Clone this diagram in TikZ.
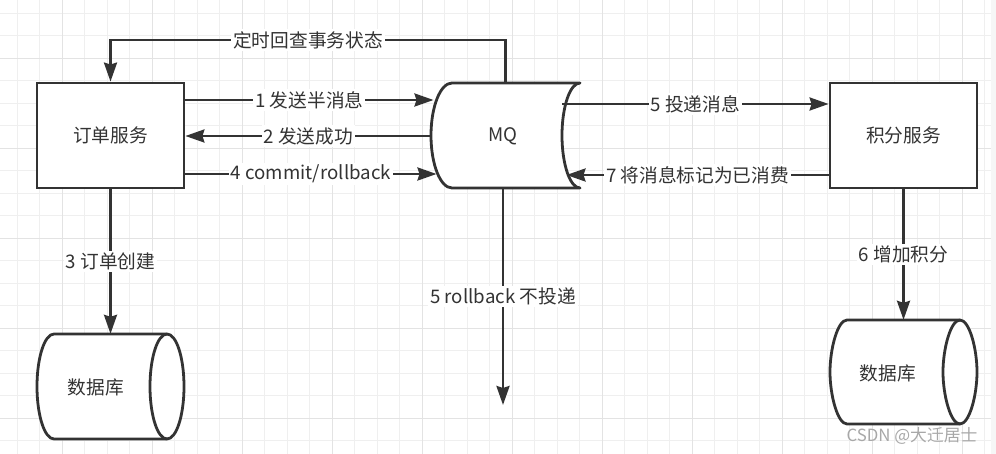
\documentclass[tikz,border=0pt]{standalone}
\usepackage{fontspec}
\setmainfont{Noto Sans CJK SC}
\usetikzlibrary{arrows.meta}
\definecolor{ink}{HTML}{333333}
\definecolor{gridminor}{HTML}{EFEFEF}
\definecolor{gridmajor}{HTML}{E3E3E3}
\definecolor{wm}{HTML}{A8A8A8}
\newcommand{\lblfont}{\fontsize{18.7}{22}\selectfont}
\newcommand{\wmfont}{\fontsize{16.8}{19}\selectfont}
\tikzset{
  shapeline/.style={draw=ink, fill=white, line width=2.8pt, line join=round},
  conn/.style={draw=ink, line width=2.6pt, -{Stealth[length=19pt,width=13pt,inset=2pt]}},
  lbl/.style={fill=white, text=ink, inner sep=2pt, font=\lblfont},
  svcbox/.style={draw=ink, fill=white, line width=2.8pt, minimum width=147pt, minimum height=105pt, inner sep=0pt, text=ink, font=\lblfont},
  dbarea/.style={draw=none, minimum width=147pt, minimum height=105pt, inner sep=0pt},
  dbtext/.style={text=ink, font=\lblfont, inner sep=0pt},
}
\begin{document}
\begin{tikzpicture}[x=1pt,y=-1pt]
\useasboundingbox (0,0) rectangle (996,454);
\fill[white] (0,0) rectangle (996,454);
% grid
\foreach \i in {0,...,43} { \draw[gridminor, line width=1.3pt] ({17.3+22.5*\i},0) -- ({17.3+22.5*\i},454); }
\foreach \i in {0,...,19} { \draw[gridminor, line width=1.3pt] (0,{13.3+22.5*\i}) -- (996,{13.3+22.5*\i}); }
\foreach \i in {0,...,10} { \draw[gridmajor, line width=1.3pt] ({62.3+90*\i},0) -- ({62.3+90*\i},454); }
\foreach \i in {0,...,4} { \draw[gridmajor, line width=1.3pt] (0,{58.3+90*\i}) -- (996,{58.3+90*\i}); }
\fill[gray!7] (991,0) rectangle (996,454);

% service boxes
\node[svcbox] (b1) at (110.5,135.5) {订单服务};
\node[svcbox] (b2) at (903.5,135.5) {积分服务};

% MQ (data storage shape)
\draw[shapeline] (452,83) -- (580,83)
  .. controls (570.1,83) and (562,106.5) .. (562,135.5)
  .. controls (562,164.5) and (570.1,188) .. (580,188)
  -- (452,188)
  .. controls (440.4,188) and (431,164.5) .. (431,135.5)
  .. controls (431,106.5) and (440.4,83) .. (452,83) -- cycle;
\node[text=ink, font=\lblfont, inner sep=0pt] (mq) at (503,136) {MQ};
\coordinate (mqa) at (433.5,100);
\coordinate (mqb) at (431,136);
\coordinate (mqc) at (436.5,174);
\coordinate (mqd) at (562,104);
\coordinate (mqe) at (566.5,175);
\coordinate (mqtop) at (505.5,83);
\coordinate (mqbot) at (503,188);
\coordinate (topbend) at (505.5,40);
\coordinate (rbend) at (503,405);

% databases
\draw[shapeline] (54,334) -- (167,334)
  .. controls (176.4,334) and (184,357.5) .. (184,386.5)
  .. controls (184,415.5) and (176.4,439) .. (167,439)
  -- (54,439)
  .. controls (44.6,439) and (37,415.5) .. (37,386.5)
  .. controls (37,357.5) and (44.6,334) .. (54,334) -- cycle;
\draw[shapeline, fill=none] (167,334)
  .. controls (157.6,334) and (150,357.5) .. (150,386.5)
  .. controls (150,415.5) and (157.6,439) .. (167,439);
\node[dbarea] (db1) at (110.5,386.5) {};
\node[dbtext] (db1t) at (96,387) {数据库};

\draw[shapeline] (847,320) -- (960,320)
  .. controls (969.4,320) and (977,348.7) .. (977,372)
  .. controls (977,395.3) and (969.4,424) .. (960,424)
  -- (847,424)
  .. controls (837.6,424) and (830,395.3) .. (830,372)
  .. controls (830,348.7) and (837.6,320) .. (847,320) -- cycle;
\draw[shapeline, fill=none] (960,320)
  .. controls (950.6,320) and (943,348.7) .. (943,372)
  .. controls (943,395.3) and (950.6,424) .. (960,424);
\node[dbarea, minimum height=104pt] (db2) at (903.5,372) {};
\node[dbtext] (db2t) at (888,373) {数据库};

% connectors
\draw[conn] (mqtop) -- (topbend) -- node[lbl]{定时回查事务状态} (topbend -| b1.north) -- (b1.north);
\draw[conn] (b1.east |- mqa) -- node[lbl]{1 发送半消息} (mqa);
\draw[conn] (mqb) -- node[lbl]{2 发送成功} (b1.east |- mqb);
\draw[conn] (b1.east |- mqc) -- node[lbl]{4 commit/rollback} (mqc);
\draw[conn] (mqd) -- node[lbl]{5 投递消息} (b2.west |- mqd);
\draw[conn] (b2.west |- mqe) -- node[lbl]{7 将消息标记为已消费} (mqe);
\draw[conn] (mqbot) -- node[lbl]{5 rollback 不投递} (rbend);
\draw[conn] (b1.south) -- node[lbl]{3 订单创建} (db1.north);
\draw[conn] (b2.south) -- node[lbl]{6 增加积分} (db2.north);

\node[text=wm, font=\wmfont, inner sep=0pt] (wmk) at (912,436) {CSDN @大迁居士};
\end{tikzpicture}
\end{document}
